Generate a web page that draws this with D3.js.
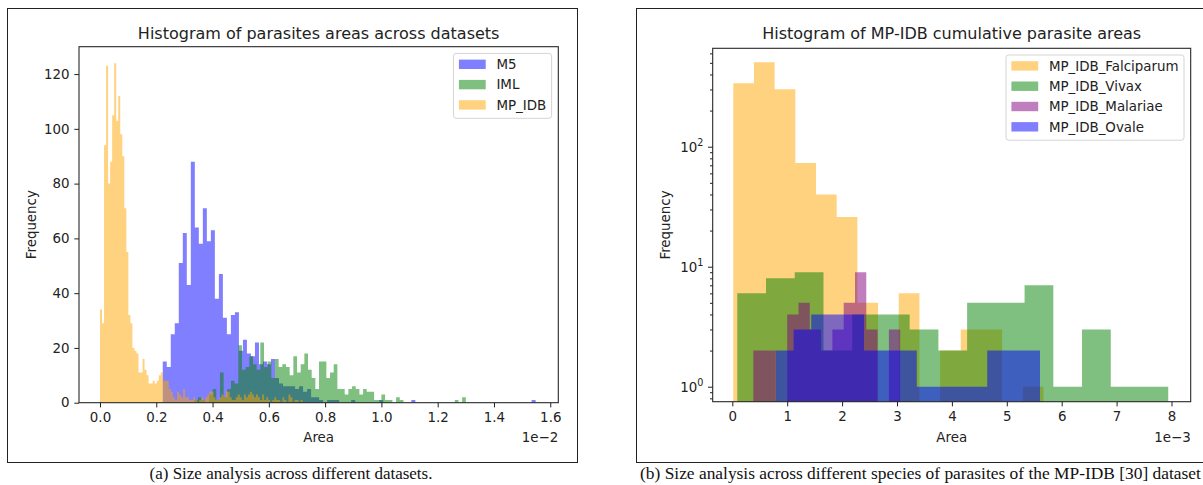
<!DOCTYPE html>
<html>
<head>
<meta charset="utf-8">
<script src="https://cdn.jsdelivr.net/npm/d3@7"></script>
<style>
  body { margin: 0; background: #fff; }
  svg text { font-family: "DejaVu Sans", sans-serif; fill: #222; }
  svg text.caption { font-family: "Liberation Serif", "Times New Roman", serif; fill: #111; }
</style>
</head>
<body>
<svg id="fig" width="1203" height="485"></svg>
<script>
// ---------------- data ----------------
// (a) areas in units of 1e-2, histogram bins = start + i * width
const m5Start = 0.223, m5Width = 0.014247;
const m5Counts = [15,13,25,29,51,62,43,88,64,58,71,59,63,38,47,31,25,32,33,19,
  23,18,17,22,14,15,14,16,9,7,6,6,6,5,6,4,5,2,2,1,
  0,1,1,1,0,0,0,1,0,0,0,0,0,0,1,0,0,0,0,0,
  0,0,1,0,0,0,0,0,0,0,0,0,0,0,0,0,0,0,0,0,
  0,0,0,0,0,0,0,0,0,0,0,0,1];

const imlStart = 0.335, imlWidth = 0.01304;
const imlCounts = [1,2,1,0,3,5,1,11,2,5,8,7,21,12,13,17,14,12,22,13,
  15,9,16,13,14,13,10,17,11,14,18,12,9,5,15,15,9,11,14,5,
  5,3,5,6,5,3,5,4,4,1,1,3,1,1,0,2,1,0,0,0,
  0,0,0,0,0,0,0,0,0,0,0,1,0,2];

const mpidbStart = 0.0, mpidbWidth = 0.0072;
const mpidbCounts = [34,29,94,123,80,88,105,124,103,112,98,90,71,55,32,29,20,19,18,11,
  11,16,12,10,7,7,8,7,8,10,11,8,8,8,5,4,2,1,4,3,
  2,5,2,2,1,1,2,1,0,1,2,1,2,3,4,4,2,1,1,2,
  3,2,4,4,2,1,1,2,3,2,1,3,2,3,4,3,2,3,2,1,
  3,1,2,1,0,1,2,1,1,0,2,1,0,3,2,0,1,1,0,1];

const seriesA = ["M5", "IML", "MP_IDB"];
const xTicksA = [0.0, 0.2, 0.4, 0.6, 0.8, 1.0, 1.2, 1.4, 1.6];
const yTicksA = [0, 20, 40, 60, 80, 100, 120];

// (b) areas in units of 1e-3
const falciStart = 0.018, falciWidth = 0.3767;
const falciCounts = [338,505,301,73,40,26,5,0,6,0,2,3,3,0,1];

const vivaxStart = 0.091, vivaxWidth = 0.5233;
const vivaxCounts = [6,8,9,2,4,4,3,2,5,5,7,1,3,1,1];

const malariaeStart = 0.3825, malariaeWidth = 0.2058;
const malariaeCounts = [2,2,0,4,5,3,2,3,5,9,3,0,3];

const ovaleStart = 0.796, ovaleWidth = 0.3206;
const ovaleCounts = [2,3,4,4,4,2,2,2,1,1,1,1,2,2,2];

const seriesB = ["MP_IDB_Falciparum", "MP_IDB_Vivax", "MP_IDB_Malariae", "MP_IDB_Ovale"];
const xTicksB = [0, 1, 2, 3, 4, 5, 6, 7, 8];
const yMajorB = [1, 10, 100];
const yMinorB = [0.8, 0.9, 2, 3, 4, 5, 6, 7, 8, 9, 20, 30, 40, 50, 60, 70, 80, 90, 200, 300, 400, 500, 600];

// ---------------- drawing ----------------
const svg = d3.select("#fig");
const fs = 13.4;      // tick / label font size
const tick = 4.7;     // major tick length

// outer frames round each sub figure
svg.append("rect").attr("x", 7.5).attr("y", 8.5).attr("width", 570).attr("height", 454)
  .attr("fill", "none").attr("stroke", "#222").attr("stroke-width", 1);
svg.append("rect").attr("x", 636.5).attr("y", 8.5).attr("width", 580).attr("height", 454)
  .attr("fill", "none").attr("stroke", "#222").attr("stroke-width", 1);

// step-area for one histogram series
function drawHist(g, x, y, base, start, width, counts, color) {
  const pts = counts.map((c, i) => [start + i * width, c]);
  pts.push([start + counts.length * width, counts[counts.length - 1]]);
  const area = d3.area()
    .curve(d3.curveStepAfter)
    .x((d) => x(d[0]))
    .y0(base)
    .y1((d) => (d[1] > 0 ? y(d[1]) : base));
  g.append("path").datum(pts).attr("d", area)
    .attr("fill", color).attr("fill-opacity", 0.5);
}

function legend(g, right, top, names, colors) {
  const lg = g.append("g");
  const box = lg.append("rect");
  const rowH = 20.3;
  let maxW = 0;
  names.forEach((n, i) => {
    const cy = 10.9 + i * rowH;
    lg.append("rect").attr("x", 5.4).attr("y", cy - 4.7).attr("width", 26.8).attr("height", 9.4)
      .attr("fill", colors[i]).attr("fill-opacity", 0.5);
    const t = lg.append("text").attr("x", 42.9).attr("y", cy).attr("dy", "0.36em")
      .attr("font-size", fs).text(n);
    maxW = Math.max(maxW, t.node().getComputedTextLength());
  });
  const w = 42.9 + maxW + 5.4;
  const h = 10.8 + names.length * 13.5 + (names.length - 1) * 6.8;
  box.attr("width", w).attr("height", h).attr("rx", 2.7)
    .attr("fill", "#fff").attr("fill-opacity", 0.8)
    .attr("stroke", "#d4d4d4").attr("stroke-width", 1);
  lg.attr("transform", "translate(" + (right - w) + "," + top + ")");
}

// ---------- (a) ----------
const A = { x0: 79, x1: 558.3, y0: 46.7, y1: 402.7 };
const xA = d3.scaleLinear().domain([-0.0746, 1.6286]).range([A.x0, A.x1]);
const yA = d3.scaleLinear().domain([0, 130]).range([A.y1, A.y0]);

const gA = svg.append("g");
gA.append("clipPath").attr("id", "clipA").append("rect")
  .attr("x", A.x0).attr("y", A.y0).attr("width", A.x1 - A.x0).attr("height", A.y1 - A.y0);
const barsA = gA.append("g").attr("clip-path", "url(#clipA)");
drawHist(barsA, xA, yA, A.y1, m5Start, m5Width, m5Counts, "blue");
drawHist(barsA, xA, yA, A.y1, imlStart, imlWidth, imlCounts, "green");
drawHist(barsA, xA, yA, A.y1, mpidbStart, mpidbWidth, mpidbCounts, "orange");

gA.append("g").attr("transform", "translate(0," + A.y1 + ")")
  .call(d3.axisBottom(xA).tickValues(xTicksA).tickFormat(d3.format(".1f"))
    .tickSize(tick).tickPadding(4.7))
  .call((g) => g.select(".domain").remove())
  .call((g) => g.selectAll("text").attr("font-size", fs).attr("font-family", null).attr("fill", "#222"))
  .call((g) => g.selectAll("line").attr("stroke", "#222"));

gA.append("g").attr("transform", "translate(" + A.x0 + ",0)")
  .call(d3.axisLeft(yA).tickValues(yTicksA).tickSize(tick).tickPadding(4.7))
  .call((g) => g.select(".domain").remove())
  .call((g) => g.selectAll("text").attr("font-size", fs).attr("font-family", null).attr("fill", "#222"))
  .call((g) => g.selectAll("line").attr("stroke", "#222"));

gA.append("rect").attr("x", A.x0).attr("y", A.y0).attr("width", A.x1 - A.x0).attr("height", A.y1 - A.y0)
  .attr("fill", "none").attr("stroke", "#222").attr("stroke-width", 1.07);

gA.append("text").attr("x", (A.x0 + A.x1) / 2).attr("y", 33).attr("dy", "0.36em")
  .attr("text-anchor", "middle").attr("font-size", 16).text("Histogram of parasites areas across datasets");
gA.append("text").attr("x", (A.x0 + A.x1) / 2).attr("y", 437).attr("dy", "0.36em")
  .attr("text-anchor", "middle").attr("font-size", fs).text("Area");
gA.append("text").attr("x", A.x1).attr("y", 437).attr("dy", "0.36em")
  .attr("text-anchor", "end").attr("font-size", fs).text("1e\u22122");
gA.append("text").attr("transform", "translate(31," + (A.y0 + A.y1) / 2 + ") rotate(-90)")
  .attr("dy", "0.36em").attr("text-anchor", "middle").attr("font-size", fs).text("Frequency");

legend(gA, A.x1 - 6.7, A.y0 + 6.7, seriesA, ["blue", "green", "orange"]);

svg.append("text").attr("class", "caption").attr("x", 291).attr("y", 479)
  .attr("text-anchor", "middle").attr("font-size", 17).text("(a) Size analysis across different datasets.");

// ---------- (b) ----------
const B = { x0: 712.7, x1: 1190.7, y0: 48.3, y1: 401.7 };
const xB = d3.scaleLinear().domain([-0.357, 8.35]).range([B.x0, B.x1]);
const yB = d3.scaleLog().domain([0.75, 661]).range([B.y1, B.y0]);

const gB = svg.append("g");
gB.append("clipPath").attr("id", "clipB").append("rect")
  .attr("x", B.x0).attr("y", B.y0).attr("width", B.x1 - B.x0).attr("height", B.y1 - B.y0);
const barsB = gB.append("g").attr("clip-path", "url(#clipB)");
drawHist(barsB, xB, yB, B.y1, falciStart, falciWidth, falciCounts, "orange");
drawHist(barsB, xB, yB, B.y1, vivaxStart, vivaxWidth, vivaxCounts, "green");
drawHist(barsB, xB, yB, B.y1, malariaeStart, malariaeWidth, malariaeCounts, "purple");
drawHist(barsB, xB, yB, B.y1, ovaleStart, ovaleWidth, ovaleCounts, "blue");

gB.append("g").attr("transform", "translate(0," + B.y1 + ")")
  .call(d3.axisBottom(xB).tickValues(xTicksB).tickFormat(d3.format("d"))
    .tickSize(tick).tickPadding(4.7))
  .call((g) => g.select(".domain").remove())
  .call((g) => g.selectAll("text").attr("font-size", fs).attr("font-family", null).attr("fill", "#222"))
  .call((g) => g.selectAll("line").attr("stroke", "#222"));

// minor log ticks
gB.append("g").attr("transform", "translate(" + B.x0 + ",0)")
  .call(d3.axisLeft(yB).tickValues(yMinorB).tickSize(2.7).tickFormat(""))
  .call((g) => g.select(".domain").remove())
  .call((g) => g.selectAll("line").attr("stroke", "#222"));

gB.append("g").attr("transform", "translate(" + B.x0 + ",0)")
  .call(d3.axisLeft(yB).tickValues(yMajorB).tickSize(tick).tickPadding(4.7))
  .call((g) => g.select(".domain").remove())
  .call((g) => g.selectAll("line").attr("stroke", "#222"))
  .call((g) => g.selectAll("text").attr("font-size", fs).attr("font-family", null).attr("fill", "#222")
    .each(function (d) {
      const t = d3.select(this);
      t.text("10");
      t.append("tspan").attr("dy", "-0.55em").attr("font-size", "0.72em").text(Math.round(Math.log10(d)));
    }));

gB.append("rect").attr("x", B.x0).attr("y", B.y0).attr("width", B.x1 - B.x0).attr("height", B.y1 - B.y0)
  .attr("fill", "none").attr("stroke", "#222").attr("stroke-width", 1.07);

gB.append("text").attr("x", (B.x0 + B.x1) / 2).attr("y", 33).attr("dy", "0.36em")
  .attr("text-anchor", "middle").attr("font-size", 16).text("Histogram of MP-IDB cumulative parasite areas");
gB.append("text").attr("x", (B.x0 + B.x1) / 2).attr("y", 437).attr("dy", "0.36em")
  .attr("text-anchor", "middle").attr("font-size", fs).text("Area");
gB.append("text").attr("x", B.x1).attr("y", 437).attr("dy", "0.36em")
  .attr("text-anchor", "end").attr("font-size", fs).text("1e\u22123");
gB.append("text").attr("transform", "translate(665," + (B.y0 + B.y1) / 2 + ") rotate(-90)")
  .attr("dy", "0.36em").attr("text-anchor", "middle").attr("font-size", fs).text("Frequency");

legend(gB, B.x1 - 6.7, B.y0 + 6.7, seriesB, ["orange", "green", "purple", "blue"]);

svg.append("text").attr("class", "caption").attr("x", 640).attr("y", 479)
  .attr("text-anchor", "start").attr("font-size", 17.4)
  .text("(b) Size analysis across different species of parasites of the MP-IDB [30] dataset");
</script>
</body>
</html>
